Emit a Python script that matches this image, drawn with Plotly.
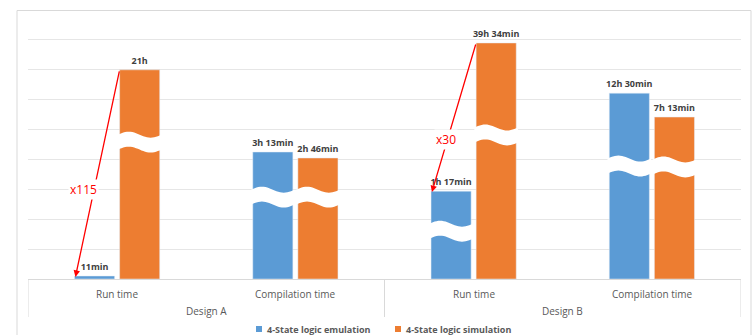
import plotly.graph_objects as go
import numpy as np

# ---- data ----
designs = ["Design A", "Design A", "Design B", "Design B"]
metrics = ["Run time", "Compilation time", "Run time", "Compilation time"]
# displayed (broken-axis) bar heights, in grid units
emulation_vals = [0.1, 4.25, 2.94, 6.22]
simulation_vals = [7.0, 4.05, 7.9, 5.42]
emulation_text = ["11min", "3h 13min", "1h 17min", "12h 30min"]
simulation_text = ["21h", "2h 46min", "39h 34min", "7h 13min"]
series_names = ["4-State logic emulation", "4-State logic simulation"]
ratio_labels = ["x115", "x30"]

# ---- style ----
BLUE = "#5B9BD5"
ORANGE = "#ED7D31"
FONT = "Open Sans"
bargap = 0.494
bargroupgap = 0.111
YMAX = 8.3
# axis-break centres (grid units) per bar; None = no break
emu_breaks = [None, 2.74, 1.6, 3.78]
sim_breaks = [4.58, 2.74, 4.82, 3.75]

# pixel geometry helpers for paper-positioned decorations
PL, PR, PT, PB = 28, 741, 31, 279
def px_y(py):
    return (PB - py) / (PB - PT)
def px_x(px):
    return (px - PL) / (PR - PL)

fig = go.Figure()
for vals, txt, col, nm in [(emulation_vals, emulation_text, BLUE, series_names[0]),
                           (simulation_vals, simulation_text, ORANGE, series_names[1])]:
    fig.add_trace(go.Bar(x=[designs, metrics], y=vals, name=nm, marker_color=col,
                         text=txt, textposition="outside", constraintext="none",
                         textfont=dict(size=9, color="#404040", family=FONT, weight="bold"),
                         cliponaxis=False, showlegend=False))

W = 1 - bargap
slot = W / 2
half = slot * (1 - bargroupgap) / 2
centers = {0: -slot / 2, 1: slot / 2}

def wave_path(xc, yc, hw, gap=0.5, amp=0.1):
    t = np.linspace(0, 1, 25)
    xs = xc - hw + 2 * hw * t
    top = yc + gap / 2 + amp * np.sin(2 * np.pi * t)
    bot = yc - gap / 2 + amp * np.sin(2 * np.pi * t)
    pts = [f"{x:.4f},{y:.4f}" for x, y in zip(xs, top)]
    pts += [f"{x:.4f},{y:.4f}" for x, y in zip(xs[::-1], bot[::-1])]
    return "M " + " L ".join(pts) + " Z"

shapes = []
for j, brks in enumerate([emu_breaks, sim_breaks]):
    for i, b in enumerate(brks):
        if b is None:
            continue
        shapes.append(dict(type="path", xref="x2", yref="y",
                           path=wave_path(i + centers[j], b, half + 0.01),
                           fillcolor="white", line=dict(width=0), layer="above"))

# outer frame
shapes.append(dict(type="rect", xref="paper", yref="paper", x0=px_x(17), x1=px_x(751),
                   y0=px_y(345), y1=px_y(10.5), line=dict(color="#d9d9d9", width=1),
                   layer="below"))

annotations = []
for k, i in enumerate([0, 2]):
    x_tail = i + centers[1] - half
    y_tail = simulation_vals[i]
    x_tip = i + centers[0] - half + 0.005
    y_tip = emulation_vals[i] - 0.03
    annotations.append(dict(xref="x2", yref="y", axref="x2", ayref="y",
                            x=x_tip, y=y_tip, ax=x_tail, ay=y_tail, text="",
                            showarrow=True, arrowhead=2, arrowsize=1, arrowwidth=1.3,
                            arrowcolor="#FF0000", standoff=0, startstandoff=0))
label_pos = [(-0.191, 2.98), (1.843, 4.68)]
for lab, (lx, ly) in zip(ratio_labels, label_pos):
    annotations.append(dict(xref="x2", yref="y", x=lx, y=ly, text=lab, showarrow=False,
                            font=dict(size=12, color="#FF0000", family=FONT),
                            bgcolor="white", borderpad=1))

# two-level category axis labels and dividers (Excel style)
for i, m in enumerate(metrics):
    annotations.append(dict(xref="x2", yref="paper", x=i, y=px_y(293.5), text=m,
                            showarrow=False, yanchor="middle",
                            font=dict(size=10, color="#595959", family=FONT)))
groups = []
for i, d in enumerate(designs):
    if not groups or groups[-1][0] != d:
        groups.append([d, i, i])
    else:
        groups[-1][2] = i
for d, a, b in groups:
    annotations.append(dict(xref="x2", yref="paper", x=(a + b) / 2, y=px_y(311), text=d,
                            showarrow=False, yanchor="middle",
                            font=dict(size=10, color="#595959", family=FONT)))
bounds = [groups[0][1] - 0.5] + [g[2] + 0.5 for g in groups]
for bx in bounds:
    shapes.append(dict(type="line", xref="x2", yref="paper", x0=bx, x1=bx,
                       y0=0, y1=px_y(317), line=dict(color="#d9d9d9", width=1)))

# manual legend (small squares, Excel style)
legend_items = [(256, BLUE, series_names[0]), (395, ORANGE, series_names[1])]
for sx, col, nm in legend_items:
    shapes.append(dict(type="rect", xref="paper", yref="paper",
                       x0=px_x(sx), x1=px_x(sx + 6), y0=px_y(332), y1=px_y(326),
                       fillcolor=col, line=dict(width=0)))
    annotations.append(dict(xref="paper", yref="paper", x=px_x(sx + 9), y=px_y(329),
                            xanchor="left", yanchor="middle", text=nm, showarrow=False,
                            font=dict(size=9, color="#595959", family=FONT, weight="bold")))

fig.update_layout(
    width=755, height=335,
    margin=dict(l=PL, r=755 - PR, t=PT, b=335 - PB, autoexpand=False),
    paper_bgcolor="white", plot_bgcolor="white",
    barmode="group", bargap=bargap, bargroupgap=bargroupgap,
    font=dict(family=FONT, size=10, color="#595959"),
    showlegend=False,
    xaxis=dict(type="multicategory", showline=True, linecolor="#d9d9d9", linewidth=1,
               showticklabels=False, showdividers=False, ticks=""),
    xaxis2=dict(overlaying="x", range=[-0.5, 3.5], visible=False, anchor="y"),
    yaxis=dict(range=[0, YMAX], dtick=1, showgrid=True, gridcolor="#e6e6e6", gridwidth=1,
               showticklabels=False, zeroline=False, fixedrange=True),
    shapes=shapes, annotations=annotations,
)
fig.write_html("out.html")
